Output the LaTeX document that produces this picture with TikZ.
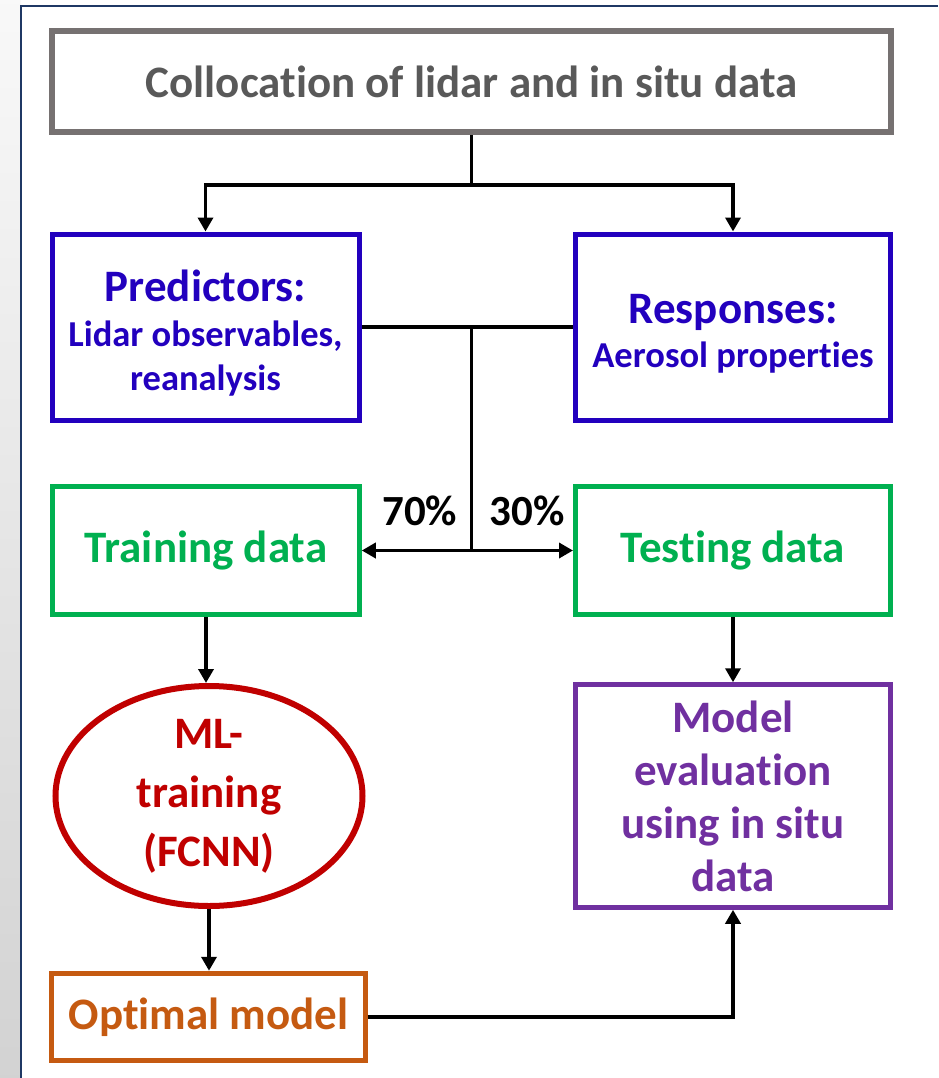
\documentclass[tikz,border=0pt]{standalone}
\usepackage{fontspec}
\setmainfont[Ligatures=NoCommon]{Carlito}
\usetikzlibrary{arrows.meta}
\usetikzlibrary{shapes.geometric}

\definecolor{boxgray}{HTML}{767171}
\definecolor{textgray}{HTML}{595959}
\definecolor{predblue}{HTML}{2200BE}
\definecolor{datagreen}{HTML}{00B050}
\definecolor{mlred}{HTML}{C00000}
\definecolor{modelorange}{HTML}{C55A11}
\definecolor{evalpurple}{HTML}{7030A0}
\definecolor{framenavy}{HTML}{1F3864}

\begin{document}
\begin{tikzpicture}[x=1pt, y=-1pt]
            \tikzstyle{base box} = [draw, rectangle, inner sep=0pt, align=center, font=\bfseries\fontsize{45}{53}\selectfont]
            \tikzstyle{gray box} = [base box, draw=boxgray, text=textgray, line width=6pt]
            \tikzstyle{blue box} = [base box, draw=predblue, text=predblue, line width=5pt, font=\bfseries\fontsize{36.5}{44.5}\selectfont]
            \tikzstyle{green box} = [base box, draw=datagreen, text=datagreen, line width=5pt]
            \tikzstyle{red oval} = [base box, ellipse, draw=mlred, text=mlred, line width=6pt, font=\bfseries\fontsize{45}{59}\selectfont]
            \tikzstyle{orange box} = [base box, draw=modelorange, text=modelorange, line width=5pt]
            \tikzstyle{purple box} = [base box, draw=evalpurple, text=evalpurple, line width=5pt]
            \tikzstyle{split label} = [inner sep=0pt, font=\bfseries\fontsize{43}{50}\selectfont]
            \tikzstyle{link} = [line width=3.5pt, black]
            \tikzstyle{link arrow} = [link, -{Triangle[length=14pt, width=15pt]}]

            \useasboundingbox (0,0) rectangle (938,1078);
            \shade[top color=gray!5, bottom color=gray!35] (0,0) rectangle (21,1078);
            \draw[framenavy, line width=2.5pt] (21,1078) -- (21,6) -- (938,6);

            \node[gray box, minimum width=839pt, minimum height=101pt] (colloc) at (471.5,81.5) {Collocation of lidar and in situ data};
            \node[blue box, minimum width=307pt, minimum height=186pt] (pred) at (205.5,327)
                {{\fontsize{45}{44.5}\selectfont\rule{0pt}{44pt}Predictors:}\\Lidar observables,\\reanalysis};
            \node[blue box, minimum width=315pt, minimum height=186pt] (resp) at (733,327)
                {{\fontsize{45}{48}\selectfont\rule{0pt}{43pt}Responses:}\\Aerosol properties};
            \node[green box, minimum width=306.5pt, minimum height=128pt] (train) at (206,550.5) {Training data};
            \node[green box, minimum width=315pt, minimum height=128pt] (test) at (733,550.5) {Testing data};
            \node[red oval, minimum width=307pt, minimum height=220pt] (ml) at (209,796) {ML-\\training\\(FCNN)};
            \node[orange box, minimum width=313.5pt, minimum height=87.5pt] (optimal) at (208.5,1017) {Optimal model};
            \node[purple box, minimum width=315pt, minimum height=222.5pt] (eval) at (733,796) {Model\\evaluation\\using in situ\\data};

            % top split
            \draw[link] (colloc.south) -- ++(0,50) coordinate (top split);
            \draw[link arrow] (top split) -| (pred.north);
            \draw[link arrow] (top split) -| (resp.north);

            % 70/30 split
            \draw[link] (pred.east) -- (resp.west);
            \coordinate (join) at (colloc.south |- pred.east);
            \draw[link] (join) -- (join |- train.east) coordinate (fork);
            \draw[link arrow] (fork) -- (train.east);
            \draw[link arrow] (fork) -- (test.west);
            \node[split label, anchor=base east] (p70) at ([xshift=-14pt, yshift=25pt]fork) {70\%};
            \node[split label, anchor=base west] (p30) at ([xshift=18pt, yshift=25pt]fork) {30\%};

            \draw[link arrow] (train.south) -- (train.south |- ml.north);
            \draw[link arrow] (ml.south) -- (ml.south |- optimal.north);
            \draw[link arrow] (test.south) -- (eval.north);
            \draw[link arrow] (optimal.east) -| (eval.south);
        \end{tikzpicture}
\end{document}
